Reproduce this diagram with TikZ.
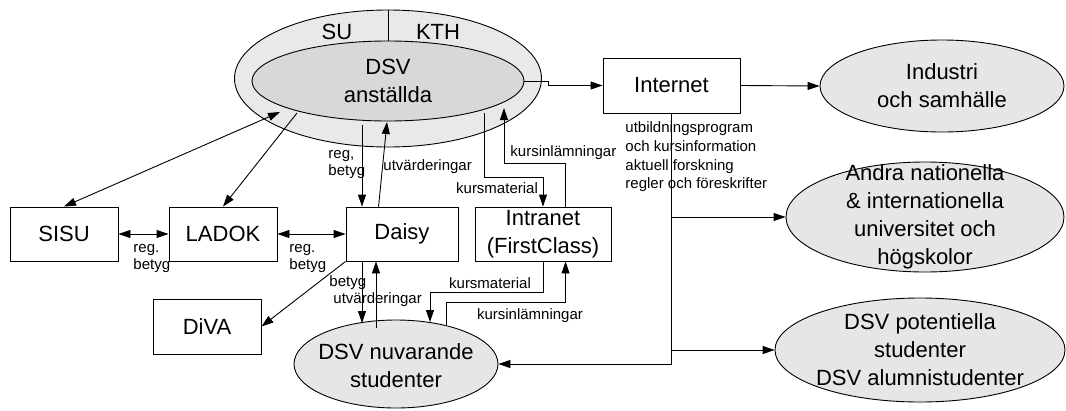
\documentclass[tikz,border=0pt]{standalone}
\usepackage{fontspec}
\setmainfont{Liberation Sans}
\usetikzlibrary{shapes.geometric,arrows.meta,calc}
\definecolor{ringfill}{RGB}{233,233,233}
\definecolor{innerfill}{RGB}{216,216,216}
\definecolor{ellfill}{RGB}{230,230,230}
\begin{document}
\begin{tikzpicture}[x=1pt,y=-1pt,
  line width=0.9pt,
  big/.style={font=\fontsize{22}{28}\selectfont},
  small/.style={font=\fontsize{15}{17}\selectfont, inner sep=0pt},
  box/.style={draw, rectangle, inner sep=0pt, big, align=center, fill=white},
  ell/.style={draw, ellipse, inner sep=0pt, fill=ellfill},
  arr/.style={-{Triangle[length=12pt,width=8pt]}},
  darr/.style={{Triangle[length=12pt,width=8pt]}-{Triangle[length=12pt,width=8pt]}},
]
\useasboundingbox (0,0) rectangle (1066,410);

% DSV staff (SU / KTH ring)
\node[ell, fill=ringfill, minimum width=307pt, minimum height=137pt] (univ) at (388,78.5) {};
\node[ell, fill=innerfill, minimum width=272pt, minimum height=80pt, big, align=center] (dsv) at (388,81) {DSV\\anställda};
\draw (univ.north) -- (dsv.north);
\node[big] (su) at (337,32) {SU};
\node[big] (kth) at (438,32) {KTH};

% boxes
\node[box, minimum width=137pt, minimum height=55pt] (internet) at (671.5,85.5) {Internet};
\node[box, minimum width=108pt, minimum height=54pt] (sisu) at (64,234) {SISU};
\node[box, minimum width=108pt, minimum height=54pt] (ladok) at (223,234) {LADOK};
\node[box, minimum width=112pt, minimum height=54pt] (daisy) at (402,234) {Daisy};
\node[box, minimum width=136pt, minimum height=54pt] (intranet) at (543,234) {Intranet\\(FirstClass)};
\node[box, minimum width=108pt, minimum height=55pt] (diva) at (207,326.5) {DiVA};

% ellipses
\node[ell, minimum width=244pt, minimum height=92pt,
  label={[big,align=center]center:{Industri\\och samhälle}}] (industri) at (942,86) {};
\node[ell, minimum width=278pt, minimum height=110pt,
  label={[big,align=center]center:{Andra nationella\\\& internationella\\universitet och\\högskolor}}] (andra) at (925,217) {};
\node[ell, minimum width=290pt, minimum height=104pt,
  label={[big,align=center]center:{DSV potentiella\\studenter\\DSV alumnistudenter}}] (pot) at (920,350) {};
\node[ell, minimum width=204pt, minimum height=88pt,
  label={[big,align=center,yshift=-2pt]center:{DSV nuvarande\\studenter}}] (nuv) at (396,364) {};

% end points on the ellipses
\coordinate (dsvSisu) at (280,112);
\coordinate (dsvLadok) at (297,113);
\coordinate (dsvReg) at (362,125);
\coordinate (dsvUtv) at (387,122);
\coordinate (dsvKm) at (484,113);
\coordinate (dsvKi) at (504,108);
\coordinate (nuvBetyg) at (362,323);
\coordinate (nuvUtv) at (376,328);
\coordinate (nuvKm) at (430,322);
\coordinate (nuvKi) at (446,325);

% connectors
\draw[darr] (sisu.north) -- (dsvSisu);
\draw[arr] (dsvLadok) -- (ladok.north);
\draw[arr] (dsvReg) -- (dsvReg |- daisy.north);
\draw[arr] ($(daisy.north west)+(33,0)$) -- (dsvUtv);
\draw[arr] (dsvKm) -- ++(0,64) -| (intranet.north);
\draw[arr] ($(intranet.north west)+(91,0)$) -- ++(0,-43) -| (dsvKi);
\draw[arr] (dsv.east) -- ++(24,0) |- (internet.west);
\draw[arr] (internet.east) -- (industri.west);
\draw[arr] (internet.south) |- (nuv.east);
\draw[arr] (internet.south |- andra.west) -- (andra.west);
\draw[arr] (internet.south |- pot.west) -- (pot.west);
\draw[darr] (sisu.east) -- (ladok.west);
\draw[darr] (ladok.east) -- (daisy.west);
\draw[arr] (daisy.south west) -- (diva.east);
\draw[arr] (nuvBetyg |- daisy.south) -- (nuvBetyg);
\draw[arr] (nuvUtv) -- (nuvUtv |- daisy.south);
\draw[arr] (intranet.south) -- ++(0,31) -| (nuvKm);
\draw[arr] (nuvKi) -- ++(0,-23) -| ($(intranet.south west)+(91,0)$);

% labels
\node[small, align=left, anchor=west] (l1) at (133,258.5) {reg.\\betyg};
\node[small, align=left, anchor=west] (l2) at (289,258.5) {reg.\\betyg};
\node[small, align=left, anchor=west] (l3) at (328,165) {reg,\\betyg};
\node[small, anchor=west] (l4) at (383,167) {utvärderingar};
\node[small, anchor=west] (l5) at (510,153) {kursinlämningar};
\node[small] (l6) at (497,188) {kursmaterial};
\node[small, anchor=west] (l7) at (329,283) {betyg};
\node[small, anchor=west] (l8) at (333,300) {utvärderingar};
\node[small] (l9) at (490,283) {kursmaterial};
\node[small] (l10) at (530,316) {kursinlämningar};
\node[small, align=left, anchor=west, font=\fontsize{15}{18.7}\selectfont] (l11) at (625,157)
  {utbildningsprogram\\och kursinformation\\aktuell forskning\\regler och föreskrifter};
\end{tikzpicture}
\end{document}
